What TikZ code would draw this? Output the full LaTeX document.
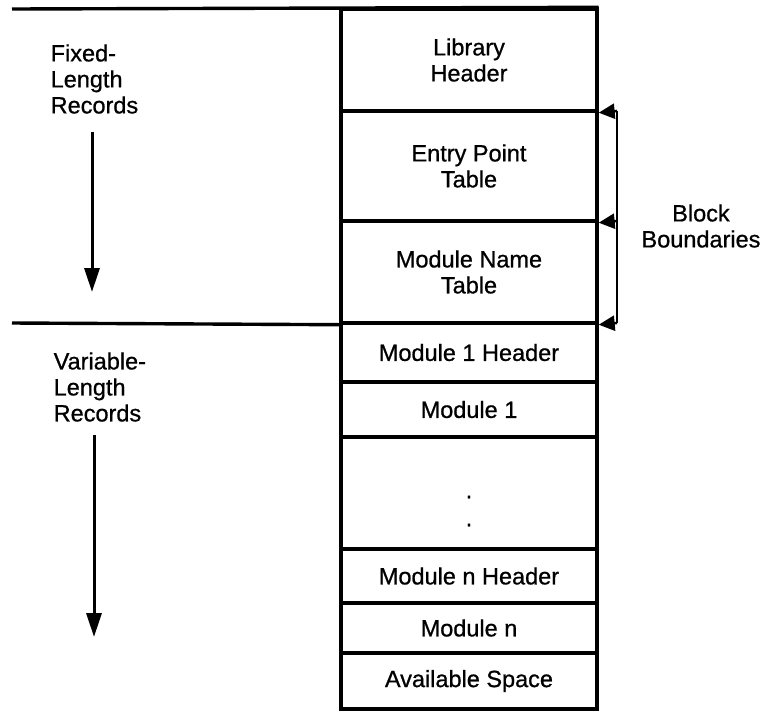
\documentclass[tikz,border=0pt]{standalone}
\usepackage{fontspec}
\setmainfont[FakeBold=0.8]{Liberation Sans}
\usetikzlibrary{arrows.meta}

\begin{document}
\begin{tikzpicture}
[x=1pt, y=-1pt, line width=3.4pt,
font=\fontsize{23.5}{26}\selectfont,
cell/.style={draw, minimum width=256pt, inner sep=0pt, align=center},
side/.style={align=left, anchor=west, inner sep=0pt},
down/.style={-{Triangle[length=24pt,width=15pt]}, line width=3pt},
tick/.style={-{Triangle[length=16pt,width=15pt]}, line width=2.6pt}]

\useasboundingbox (0,0) rectangle (763,710);

% fixed-length part
\node[cell, minimum height=102pt] (lib) at (469, 60) {Library\\Header};
\node[cell, minimum height=110pt] (ept) at (469, 166) {Entry Point\\Table};
\node[cell, minimum height=102pt] (mnt) at (469, 272) {Module Name\\Table};

% variable-length part
\node[cell, minimum height=59pt] (m1h) at (469, 352.5) {Module 1 Header};
\node[cell, minimum height=55pt] (m1) at (469, 409.5) {Module 1};
\node[cell, minimum height=112pt] (gap) at (469, 493) {};
\node[cell, minimum height=54pt] (mnh) at (469, 576) {Module n Header};
\node[cell, minimum height=50pt] (mn) at (469, 628) {Module n};
\node[cell, minimum height=56pt] (avail) at (469, 681) {Available Space};
\node[align=center, inner sep=0pt, font=\fontsize{23.5}{28}\selectfont] (dots) at (469, 511) {.\\.};

\coordinate (tl) at (12, 9);
\coordinate (ml) at (12, 323);
\draw (tl) -- (lib.north east);
\draw (ml) -- (mnt.south west);

\node[side] (fixed) at (49, 79) {Fixed-\\Length\\Records};
\node[side] (var) at (52, 387) {Variable-\\Length\\Records};

\coordinate (f0) at (92, 132);
\coordinate (f1) at (92, 292);
\coordinate (v0) at (94, 435);
\coordinate (v1) at (94, 637);
\draw[down] (f0) -- (f1);
\draw[down] (v0) -- (v1);

% block boundaries
\coordinate (b1) at (617, 111);
\coordinate (b2) at (617, 221);
\coordinate (b3) at (617, 323);
\draw[line width=2.6pt] (b1) -- (b3);
\draw[tick] (b1) -- (lib.south east);
\draw[tick] (b2) -- (ept.south east);
\draw[tick] (b3) -- (mnt.south east);

\node[align=center, inner sep=0pt] (blk) at (701, 226) {Block\\Boundaries};

\end{tikzpicture}
\end{document}
